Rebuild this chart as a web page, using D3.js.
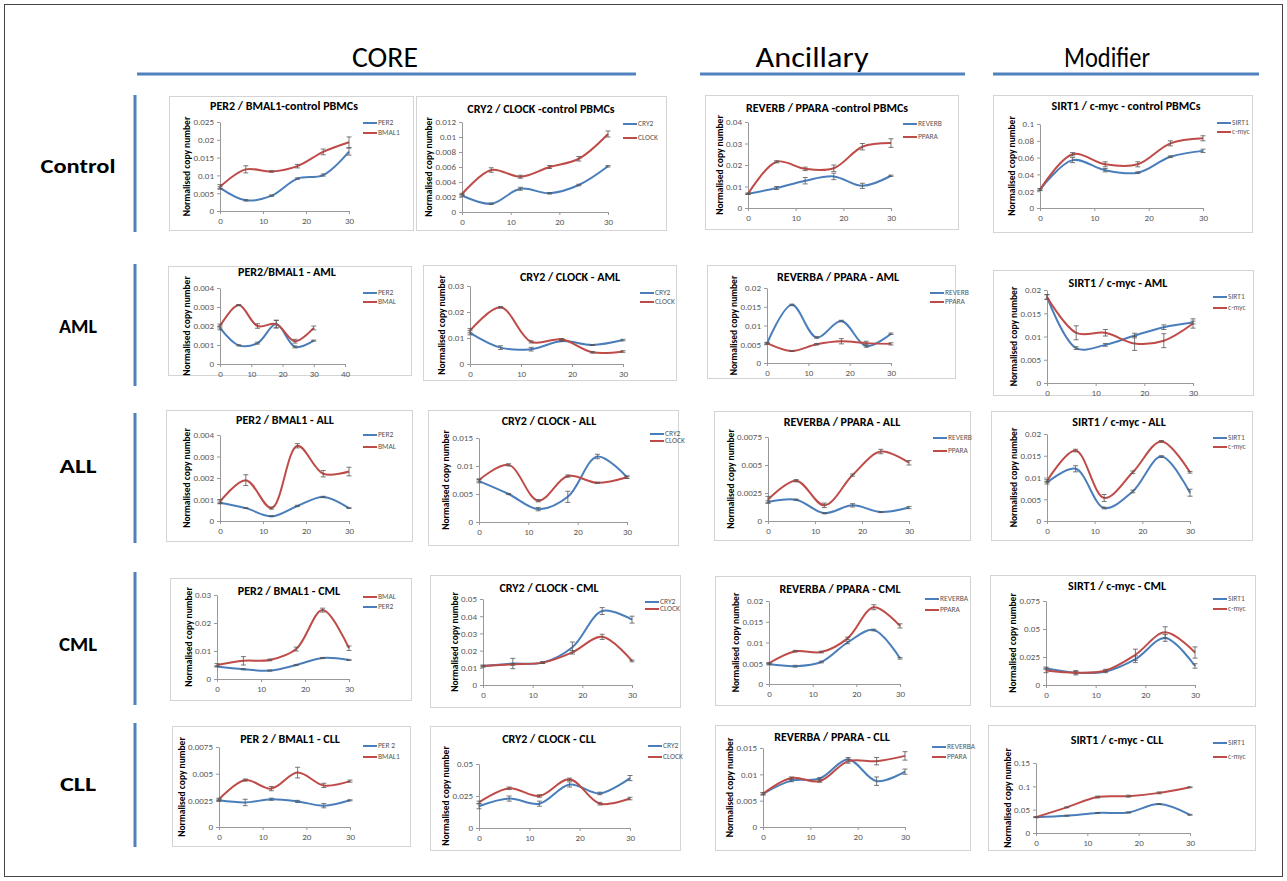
<!DOCTYPE html>
<html>
<head>
<meta charset="utf-8">
<script src="https://cdn.jsdelivr.net/npm/d3@7"></script>
<style>
  body { margin: 0; background: #fff; }
  svg { font-family: Carlito, "Liberation Sans", Arial, sans-serif; }
</style>
</head>
<body>
<svg width="1287" height="881"></svg>
<script>
// time points (hours)
var hours = [0, 6, 12, 18, 24, 30];

// --- control PBMCs
var ctlPer2 = [0.0065, 0.003, 0.0043, 0.0091, 0.0101, 0.0167];
var ctlPer2Err = [0.0003, 0.0002, 0.0002, 0.0002, 0.0003, 0.001];
var ctlBmal1 = [0.0068, 0.0117, 0.0111, 0.0126, 0.0166, 0.0193];
var ctlBmal1Err = [0.0006, 0.001, 0.0002, 0.0005, 0.0008, 0.0015];
var ctlCry2 = [0.0022, 0.0011, 0.0031, 0.0025, 0.0036, 0.0061];
var ctlCry2Err = [0.0001, 0.0001, 0.0002, 0.0001, 0.0001, 0.0001];
var ctlClock = [0.0024, 0.0056, 0.0047, 0.006, 0.0071, 0.0104];
var ctlClockErr = [0.0001, 0.0003, 0.0002, 0.0002, 0.0003, 0.0004];
var ctlReverb = [0.0066, 0.0093, 0.0127, 0.0147, 0.0103, 0.015];
var ctlReverbErr = [0.0003, 0.0007, 0.0015, 0.0015, 0.0012, 0.0003];
var ctlPpara = [0.0066, 0.0215, 0.0182, 0.0185, 0.0285, 0.0302];
var ctlPparaErr = [0.0003, 0.0005, 0.0008, 0.0015, 0.0015, 0.002];
var ctlSirt1 = [0.022, 0.057, 0.045, 0.042, 0.061, 0.068];
var ctlSirt1Err = [0.001, 0.003, 0.002, 0.001, 0.001, 0.002];
var ctlMyc = [0.022, 0.064, 0.052, 0.052, 0.077, 0.083];
var ctlMycErr = [0.001, 0.002, 0.003, 0.003, 0.003, 0.003];

// --- AML
var amlPer2 = [0.0019, 0.00098, 0.0011, 0.0021, 0.0009, 0.00123];
var amlPer2Err = [0.0001, 0.00003, 0.00005, 0.0002, 0.00005, 0.00003];
var amlBmal = [0.002, 0.0031, 0.002, 0.0021, 0.0012, 0.0019];
var amlBmalErr = [0.0001, 0.00003, 0.00012, 0.0002, 0.0001, 0.0001];
var amlCry2 = [0.012, 0.0063, 0.0057, 0.0088, 0.0073, 0.0092];
var amlCry2Err = [0.0008, 0.0007, 0.0007, 0.0002, 0.0002, 0.0003];
var amlClock = [0.0128, 0.0218, 0.0085, 0.0095, 0.0045, 0.0048];
var amlClockErr = [0.0008, 0.0003, 0.0004, 0.0003, 0.0003, 0.0003];
var amlReverb = [0.0052, 0.0155, 0.0068, 0.0112, 0.0045, 0.0078];
var amlReverbErr = [0.0002, 0.0002, 0.0002, 0.0002, 0.0003, 0.0002];
var amlPpara = [0.0053, 0.0032, 0.005, 0.0058, 0.0053, 0.0051];
var amlPparaErr = [0.0002, 0.0001, 0.0002, 0.0007, 0.0005, 0.0003];
var amlSirt1 = [0.0185, 0.0075, 0.0082, 0.0102, 0.012, 0.013];
var amlSirt1Err = [0.0005, 0.0003, 0.0003, 0.0005, 0.0005, 0.0003];
var amlMyc = [0.0185, 0.0108, 0.0108, 0.0085, 0.0091, 0.0128];
var amlMycErr = [0.0005, 0.0015, 0.0007, 0.0015, 0.0015, 0.001];

// --- ALL
var allPer2 = [0.00085, 0.0006, 0.00022, 0.0007, 0.00112, 0.0006];
var allPer2Err = [0.00003, 0.00002, 0.00002, 0.00003, 0.00003, 0.00002];
var allBmal = [0.0009, 0.0019, 0.0006, 0.0035, 0.0022, 0.0023];
var allBmalErr = [0.0001, 0.00025, 0.00005, 0.0001, 0.00015, 0.0002];
var allCry2 = [0.0073, 0.005, 0.0023, 0.0045, 0.0117, 0.008];
var allCry2Err = [0.0003, 0.0001, 0.0003, 0.001, 0.0004, 0.0002];
var allClock = [0.0075, 0.0102, 0.0038, 0.0082, 0.007, 0.008];
var allClockErr = [0.0002, 0.0002, 0.0002, 0.0002, 0.0001, 0.0002];
var allReverb = [0.0017, 0.0019, 0.0007, 0.0014, 0.0008, 0.0012];
var allReverbErr = [0.0001, 0.00005, 0.00005, 0.00015, 0.00005, 0.0001];
var allPpara = [0.0019, 0.0036, 0.0014, 0.0041, 0.0062, 0.0052];
var allPparaErr = [0.0003, 0.0001, 0.0002, 0.0001, 0.0002, 0.0002];
var allSirt1 = [0.0088, 0.012, 0.003, 0.0068, 0.0148, 0.0065];
var allSirt1Err = [0.0003, 0.0007, 0.0002, 0.0003, 0.0002, 0.0008];
var allMyc = [0.0092, 0.0162, 0.0053, 0.0112, 0.0183, 0.0112];
var allMycErr = [0.0003, 0.0003, 0.0008, 0.0003, 0.0002, 0.0002];

// --- CML
var cmlBmal = [0.005, 0.0065, 0.0068, 0.0107, 0.0246, 0.011];
var cmlBmalErr = [0.0005, 0.0015, 0.0003, 0.0007, 0.0007, 0.0008];
var cmlPer2 = [0.0045, 0.0035, 0.003, 0.005, 0.0075, 0.0068];
var cmlPer2Err = [0.0002, 0.0002, 0.0002, 0.0002, 0.0002, 0.0002];
var cmlCry2 = [0.011, 0.0125, 0.013, 0.022, 0.043, 0.038];
var cmlCry2Err = [0.0005, 0.003, 0.0005, 0.003, 0.002, 0.002];
var cmlClock = [0.011, 0.012, 0.013, 0.019, 0.028, 0.014];
var cmlClockErr = [0.0005, 0.0005, 0.0005, 0.001, 0.0015, 0.0005];
var cmlReverba = [0.0048, 0.0043, 0.0053, 0.01, 0.013, 0.0062];
var cmlReverbaErr = [0.0002, 0.0002, 0.0002, 0.0003, 0.0002, 0.0002];
var cmlPpara = [0.005, 0.0079, 0.0077, 0.011, 0.0185, 0.014];
var cmlPparaErr = [0.0002, 0.0002, 0.0002, 0.0003, 0.0006, 0.0005];
var cmlSirt1 = [0.015, 0.011, 0.012, 0.023, 0.042, 0.017];
var cmlSirt1Err = [0.001, 0.001, 0.001, 0.003, 0.003, 0.002];
var cmlMyc = [0.013, 0.011, 0.013, 0.027, 0.047, 0.029];
var cmlMycErr = [0.002, 0.002, 0.001, 0.005, 0.005, 0.005];

// --- CLL
var cllPer2 = [0.0025, 0.0023, 0.0026, 0.0024, 0.002, 0.0025];
var cllPer2Err = [0.0001, 0.0003, 0.0001, 0.0001, 0.0002, 0.00005];
var cllBmal1 = [0.0026, 0.0044, 0.0036, 0.0051, 0.0039, 0.0043];
var cllBmal1Err = [0.0001, 0.0001, 0.0002, 0.0005, 0.0002, 0.0001];
var cllCry2 = [0.017, 0.023, 0.019, 0.034, 0.027, 0.039];
var cllCry2Err = [0.002, 0.002, 0.002, 0.002, 0.001, 0.002];
var cllClock = [0.02, 0.031, 0.025, 0.038, 0.019, 0.023];
var cllClockErr = [0.001, 0.001, 0.001, 0.001, 0.001, 0.001];
var cllReverba = [0.0063, 0.0088, 0.0092, 0.0128, 0.0087, 0.0105];
var cllReverbaErr = [0.0002, 0.0002, 0.0002, 0.0004, 0.0008, 0.0005];
var cllPpara = [0.0063, 0.0093, 0.0087, 0.0125, 0.0125, 0.0135];
var cllPparaErr = [0.0002, 0.0002, 0.0002, 0.0004, 0.0007, 0.0008];
var cllSirt1 = [0.034, 0.037, 0.043, 0.044, 0.062, 0.039];
var cllSirt1Err = [0.001, 0.001, 0.001, 0.001, 0.001, 0.001];
var cllMyc = [0.034, 0.055, 0.077, 0.079, 0.086, 0.098];
var cllMycErr = [0.001, 0.001, 0.002, 0.002, 0.002, 0.001];

var columnTitles = ["CORE", "Ancillary", "Modifier"];
var rowTitles = ["Control", "AML", "ALL", "CML", "CLL"];

var blue = "#4a7ebb", red = "#be4b48", accent = "#4f81bd";

// layout of each small chart: frame box, plot box [left,right,top,bottom], y axis max/step
var panels = [
  { title: "PER2 / BMAL1-control PBMCs", box: [169, 96, 244, 134], plot: [220, 349, 122, 211], yMax: 0.025, yStep: 0.005, xMax: 30, tx: 284, ty: 107, leg: [363, 123, 133],
    series: [["PER2", ctlPer2, ctlPer2Err, blue], ["BMAL1", ctlBmal1, ctlBmal1Err, red]] },
  { title: "CRY2 / CLOCK -control PBMCs", box: [416, 96, 250, 134], plot: [462, 608, 122, 212], yMax: 0.012, yStep: 0.002, xMax: 30, tx: 541, ty: 110, leg: [623, 124, 138],
    series: [["CRY2", ctlCry2, ctlCry2Err, blue], ["CLOCK", ctlClock, ctlClockErr, red]] },
  { title: "REVERB / PPARA -control PBMCs", box: [705, 95, 253, 134], plot: [748, 891, 122, 208], yMax: 0.04, yStep: 0.01, xMax: 30, tx: 827, ty: 109, leg: [903, 124, 137],
    series: [["REVERB", ctlReverb, ctlReverbErr, blue], ["PPARA", ctlPpara, ctlPparaErr, red]] },
  { title: "SIRT1 / c-myc - control PBMCs", box: [993, 95, 259, 137], plot: [1040, 1203, 124, 208], yMax: 0.1, yStep: 0.02, xMax: 30, tx: 1126, ty: 107, leg: [1217, 123, 132],
    series: [["SIRT1", ctlSirt1, ctlSirt1Err, blue], ["c-myc", ctlMyc, ctlMycErr, red]] },

  { title: "PER2/BMAL1 - AML", box: [168, 266, 243, 109], plot: [220, 345, 288, 364], yMax: 0.004, yStep: 0.001, xMax: 40, tx: 287, ty: 273, leg: [363, 293, 302],
    series: [["PER2", amlPer2, amlPer2Err, blue], ["BMAL", amlBmal, amlBmalErr, red]] },
  { title: "CRY2 / CLOCK - AML", box: [423, 265, 253, 115], plot: [470, 623, 286, 364], yMax: 0.03, yStep: 0.01, xMax: 30, tx: 570, ty: 278, leg: [640, 293, 302],
    series: [["CRY2", amlCry2, amlCry2Err, blue], ["CLOCK", amlClock, amlClockErr, red]] },
  { title: "REVERBA / PPARA  - AML", box: [707, 265, 248, 113], plot: [767, 891, 288, 363], yMax: 0.02, yStep: 0.005, xMax: 30, tx: 838, ty: 278, leg: [930, 293, 302],
    series: [["REVERB", amlReverb, amlReverbErr, blue], ["PPARA", amlPpara, amlPparaErr, red]] },
  { title: "SIRT1 / c-myc - AML", box: [993, 270, 260, 125], plot: [1047, 1193, 290, 383], yMax: 0.02, yStep: 0.005, xMax: 30, tx: 1118, ty: 284, leg: [1213, 297, 308],
    series: [["SIRT1", amlSirt1, amlSirt1Err, blue], ["c-myc", amlMyc, amlMycErr, red]] },

  { title: "PER2 / BMAL1 - ALL", box: [166, 410, 246, 131], plot: [220, 349, 435, 521], yMax: 0.004, yStep: 0.001, xMax: 30, tx: 285, ty: 421, leg: [363, 435, 447],
    series: [["PER2", allPer2, allPer2Err, blue], ["BMAL", allBmal, allBmalErr, red]] },
  { title: "CRY2 / CLOCK - ALL", box: [428, 410, 250, 135], plot: [479, 627, 438, 522], yMax: 0.015, yStep: 0.005, xMax: 30, tx: 549, ty: 422, leg: [650, 434, 441],
    series: [["CRY2", allCry2, allCry2Err, blue], ["CLOCK", allClock, allClockErr, red]] },
  { title: "REVERBA / PPARA - ALL", box: [714, 411, 256, 129], plot: [768, 909, 437, 521], yMax: 0.0075, yStep: 0.0025, xMax: 30, tx: 842, ty: 423, leg: [933, 438, 451],
    series: [["REVERB", allReverb, allReverbErr, blue], ["PPARA", allPpara, allPparaErr, red]] },
  { title: "SIRT1 / c-myc - ALL", box: [991, 411, 261, 129], plot: [1047, 1190, 434, 521], yMax: 0.02, yStep: 0.005, xMax: 30, tx: 1119, ty: 423, leg: [1213, 438, 447],
    series: [["SIRT1", allSirt1, allSirt1Err, blue], ["c-myc", allMyc, allMycErr, red]] },

  { title: "PER2 / BMAL1 - CML", box: [170, 578, 241, 122], plot: [217, 349, 595, 679], yMax: 0.03, yStep: 0.01, xMax: 30, tx: 289, ty: 592, leg: [363, 597, 607],
    series: [["BMAL", cmlBmal, cmlBmalErr, red], ["PER2", cmlPer2, cmlPer2Err, blue]] },
  { title: "CRY2 / CLOCK - CML", box: [430, 575, 250, 132], plot: [483, 632, 599, 685], yMax: 0.05, yStep: 0.01, xMax: 30, tx: 549, ty: 589, leg: [645, 602, 609],
    series: [["CRY2", cmlCry2, cmlCry2Err, blue], ["CLOCK", cmlClock, cmlClockErr, red]] },
  { title: "REVERBA / PPARA - CML", box: [715, 576, 255, 129], plot: [769, 900, 601, 684], yMax: 0.02, yStep: 0.005, xMax: 30, tx: 840, ty: 590, leg: [925, 599, 610],
    series: [["REVERBA", cmlReverba, cmlReverbaErr, blue], ["PPARA", cmlPpara, cmlPparaErr, red]] },
  { title: "SIRT1 / c-myc - CML", box: [990, 575, 265, 131], plot: [1046, 1195, 601, 685], yMax: 0.075, yStep: 0.025, xMax: 30, tx: 1117, ty: 587, leg: [1213, 599, 609],
    series: [["SIRT1", cmlSirt1, cmlSirt1Err, blue], ["c-myc", cmlMyc, cmlMycErr, red]] },

  { title: "PER 2 / BMAL1 - CLL", box: [172, 726, 238, 120], plot: [219, 350, 747, 827], yMax: 0.0075, yStep: 0.0025, xMax: 30, tx: 290, ty: 740, leg: [363, 746, 757],
    series: [["PER 2", cllPer2, cllPer2Err, blue], ["BMAL1", cllBmal1, cllBmal1Err, red]] },
  { title: "CRY2 / CLOCK - CLL", box: [430, 726, 250, 124], plot: [479, 630, 764, 828], yMax: 0.05, yStep: 0.025, xMax: 30, tx: 549, ty: 740, leg: [648, 746, 757],
    series: [["CRY2", cllCry2, cllCry2Err, blue], ["CLOCK", cllClock, cllClockErr, red]] },
  { title: "REVERBA / PPARA - CLL", box: [715, 725, 255, 125], plot: [763, 905, 748, 827], yMax: 0.015, yStep: 0.005, xMax: 30, tx: 832, ty: 738, leg: [932, 747, 757],
    series: [["REVERBA", cllReverba, cllReverbaErr, blue], ["PPARA", cllPpara, cllPparaErr, red]] },
  { title: "SIRT1 / c-myc - CLL", box: [988, 725, 267, 125], plot: [1036, 1190, 763, 833], yMax: 0.15, yStep: 0.05, xMax: 30, tx: 1117, ty: 741, leg: [1213, 743, 757],
    series: [["SIRT1", cllSirt1, cllSirt1Err, blue], ["c-myc", cllMyc, cllMycErr, red]] }
];

var svg = d3.select("svg");

// outer frame
svg.append("rect")
  .attr("x", 4.5).attr("y", 4.5).attr("width", 1278).attr("height", 872)
  .attr("fill", "none").attr("stroke", "#444").attr("stroke-width", 1);

// column headers + underline  [centre x, line from, line to, text width]
var colPos = [[385, 137, 636, 66], [812, 700, 965, 113], [1107, 993, 1259, 86]];
columnTitles.forEach(function(t, i) {
  svg.append("text")
    .attr("x", colPos[i][0] - colPos[i][3] / 2).attr("y", 67)
    .attr("font-size", 28)
    .attr("textLength", colPos[i][3]).attr("lengthAdjust", "spacingAndGlyphs")
    .text(t);
  svg.append("line")
    .attr("x1", colPos[i][1]).attr("x2", colPos[i][2])
    .attr("y1", 74).attr("y2", 74)
    .attr("stroke", accent).attr("stroke-width", 3);
});

// row labels + left bars  [baseline, bar top, bar bottom, text width]
var rowPos = [[173, 95, 232, 75], [333, 264, 386, 38], [473, 413, 543, 37], [651, 572, 705, 38], [791, 723, 847, 36]];
rowTitles.forEach(function(t, i) {
  svg.append("text")
    .attr("x", 78 - rowPos[i][3] / 2).attr("y", rowPos[i][0])
    .attr("font-size", 20).attr("font-weight", "bold")
    .attr("textLength", rowPos[i][3]).attr("lengthAdjust", "spacingAndGlyphs")
    .text(t);
  svg.append("line")
    .attr("x1", 135).attr("x2", 135)
    .attr("y1", rowPos[i][1]).attr("y2", rowPos[i][2])
    .attr("stroke", accent).attr("stroke-width", 3);
});

function tickList(max, step) {
  var n = Math.round(max / step);
  return d3.range(n + 1).map(function(i) { return +(i * step).toFixed(6); });
}

panels.forEach(function(p) {
  var g = svg.append("g");
  var l = p.plot[0], r = p.plot[1], t = p.plot[2], b = p.plot[3];

  g.append("rect")
    .attr("x", p.box[0] + 0.5).attr("y", p.box[1] + 0.5)
    .attr("width", p.box[2]).attr("height", p.box[3])
    .attr("fill", "#fff").attr("stroke", "#d4d4d4");

  var x = d3.scaleLinear().domain([0, p.xMax]).range([l, r]);
  var y = d3.scaleLinear().domain([0, p.yMax]).range([b, t]);

  var yAxis = g.append("g")
    .attr("transform", "translate(" + l + ",0)")
    .call(d3.axisLeft(y).tickValues(tickList(p.yMax, p.yStep)).tickFormat(function(d) { return String(d); }).tickSize(3).tickSizeOuter(0));
  var xAxis = g.append("g")
    .attr("transform", "translate(0," + b + ")")
    .call(d3.axisBottom(x).tickValues(d3.range(0, p.xMax + 1, 10)).tickSize(3).tickSizeOuter(0));

  [yAxis, xAxis].forEach(function(a) {
    a.select(".domain").attr("stroke", "#999");
    a.selectAll(".tick line").attr("stroke", "#999");
    a.selectAll(".tick text").attr("fill", "#595959").attr("font-size", 9)
      .attr("font-family", 'Carlito, "Liberation Sans", Arial, sans-serif');
  });
  xAxis.selectAll(".tick text").attr("dy", "0.8em");

  var lx = yAxis.node().getBBox().x + l - 3;
  g.append("text")
    .attr("transform", "translate(" + lx + "," + ((t + b) / 2) + ") rotate(-90)")
    .attr("text-anchor", "middle")
    .attr("font-size", 9.5).attr("font-weight", "bold")
    .text("Normalised copy number");

  g.append("text")
    .attr("x", p.tx).attr("y", p.ty)
    .attr("text-anchor", "middle").attr("dominant-baseline", "middle")
    .attr("font-size", 12).attr("font-weight", "bold")
    .text(p.title);

  var line = d3.line()
    .x(function(d, i) { return x(hours[i]); })
    .y(function(d) { return y(d); })
    .curve(d3.curveCatmullRom);

  p.series.forEach(function(s, k) {
    g.append("path")
      .attr("d", line(s[1]))
      .attr("fill", "none")
      .attr("stroke", s[3]).attr("stroke-width", 2);

    var eb = g.append("g").attr("stroke", "#555").attr("stroke-width", 0.8);
    s[1].forEach(function(v, i) {
      var cx = x(hours[i]), y1 = y(v + s[2][i]), y2 = y(v - s[2][i]);
      eb.append("line").attr("x1", cx).attr("x2", cx).attr("y1", y1).attr("y2", y2);
      eb.append("line").attr("x1", cx - 2.5).attr("x2", cx + 2.5).attr("y1", y1).attr("y2", y1);
      eb.append("line").attr("x1", cx - 2.5).attr("x2", cx + 2.5).attr("y1", y2).attr("y2", y2);
    });

    var ly = p.leg[k + 1];
    g.append("line")
      .attr("x1", p.leg[0]).attr("x2", p.leg[0] + 14)
      .attr("y1", ly).attr("y2", ly)
      .attr("stroke", s[3]).attr("stroke-width", 2);
    g.append("text")
      .attr("x", p.leg[0] + 15).attr("y", ly)
      .attr("dominant-baseline", "middle")
      .attr("font-size", 7.5).attr("fill", "#595959")
      .text(s[0]);
  });
});
</script>
</body>
</html>
